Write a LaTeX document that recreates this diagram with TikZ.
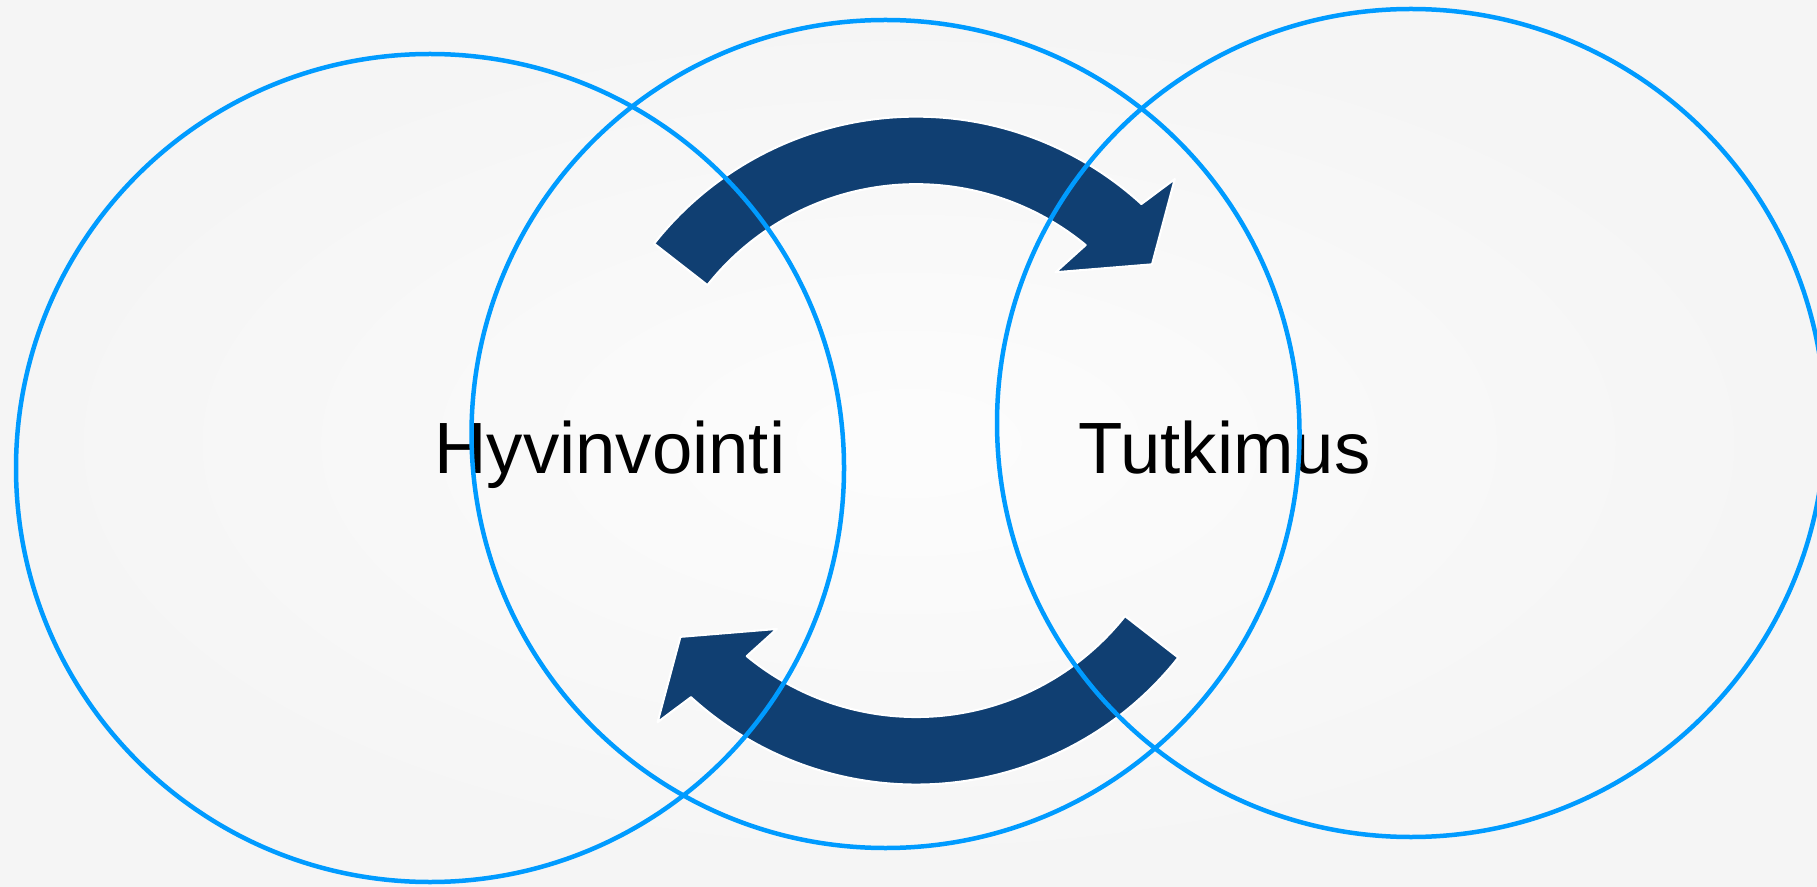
\documentclass[tikz,border=0pt]{standalone}
\usepackage{fontspec}
\setmainfont{Liberation Sans}
\definecolor{ringblue}{RGB}{0,155,255}
\definecolor{arrownavy}{RGB}{16,63,114}
\begin{document}
\begin{tikzpicture}[
    ring/.style={circle, draw=ringblue, line width=0.045cm, minimum size=8.28cm, inner sep=0pt},
    arrowbody/.style={fill=arrownavy, draw=white, line width=0.6pt, line join=round},
    label/.style={anchor=base, font=\fontsize{20.66}{24}\selectfont}
  ]
    \useasboundingbox (0,0) rectangle (18.17,8.86);
    \shade[inner color=white!99!black, outer color=white!96!black] (0,0) rectangle (18.17,8.86);
    \coordinate (C) at (9.162,4.354);
    % upper arrow, pointing right
    \begin{scope}[shift={(C)}]
      \filldraw[arrowbody] (141.7:3.34cm) arc[start angle=141.7, end angle=47.6, radius=3.34cm]
        -- (46.4:3.75cm) -- (38.3:3.005cm) -- (52:2.263cm) -- (50.5:2.664cm)
        arc[start angle=50.5, end angle=141.6, radius=2.664cm] -- cycle;
    \end{scope}
    % lower arrow, pointing left
    \begin{scope}[shift={(C)}, rotate=180]
      \filldraw[arrowbody] (141.7:3.34cm) arc[start angle=141.7, end angle=47.6, radius=3.34cm]
        -- (46.4:3.75cm) -- (38.3:3.005cm) -- (52:2.263cm) -- (50.5:2.664cm)
        arc[start angle=50.5, end angle=141.6, radius=2.664cm] -- cycle;
    \end{scope}
    \node [label] (hyvinvointi) at (6.098,4.13) {Hyvinvointi};
    \node [label] (tutkimus) at (12.245,4.13) {Tutkimus};
    \node [ring] (leftring) at (4.30,4.18) {};
    \node [ring] (midring) at (8.855,4.52) {};
    \node [ring] (rightring) at (14.11,4.63) {};
  \end{tikzpicture}
\end{document}
